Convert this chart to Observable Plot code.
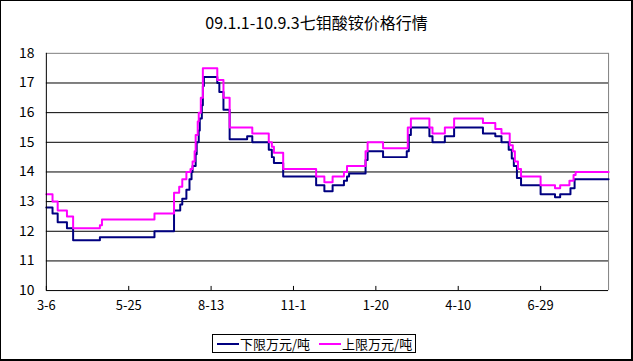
<!DOCTYPE html>
<html><head><meta charset="utf-8">
<script src="https://cdn.jsdelivr.net/npm/d3@7"></script>
<script src="https://cdn.jsdelivr.net/npm/@observablehq/plot@0.6"></script>
<style>
body{margin:0;background:#fff;}
#frame{position:relative;width:630px;height:358px;border-left:1px solid #000;border-top:1px solid #000;border-right:2px solid #000;border-bottom:2px solid #000;font-family:"Noto Sans CJK SC","Noto Sans",sans-serif;overflow:hidden;background:#fff;}
#title{position:absolute;left:-1px;width:633px;top:11px;text-align:center;font-size:16px;line-height:20px;color:#000;}
#chart{position:absolute;left:-1px;top:-1px;}
#legend{position:absolute;left:211px;top:333px;width:202px;height:17px;border:1px solid #000;display:flex;align-items:center;font-size:13px;line-height:17px;color:#000;background:#fff;}
.sw{display:inline-block;width:22px;height:2px;margin:0 1px 0 4px;}
</style>
</head><body>
<div id="frame">
  <div id="title"></div>
  <div id="chart"></div>
  <div id="legend"></div>
</div>
<script>
const titleText = "09.1.1-10.9.3七钼酸铵价格行情";
const seriesNames = ["下限万元/吨", "上限万元/吨"];
const seriesColors = ["#000080", "#ff00ff"];

const tickDates = ["2009-03-06","2009-05-25","2009-08-13","2009-11-01","2010-01-20","2010-04-10","2010-06-29"];
const tickLabels = ["3-6","5-25","8-13","11-1","1-20","4-10","6-29"];
const yTicks = [10,11,12,13,14,15,16,17,18];
const xStart = "2009-03-06", xEnd = "2010-09-03";

const lowDates = ["2009-03-06","2009-03-12","2009-03-17","2009-03-26","2009-04-01","2009-04-27","2009-06-19","2009-07-08","2009-07-14","2009-07-16","2009-07-20","2009-07-23","2009-07-25","2009-07-26","2009-07-29","2009-07-30","2009-08-01","2009-08-02","2009-08-04","2009-08-05","2009-08-06","2009-08-19","2009-08-21","2009-08-25","2009-08-31","2009-09-17","2009-09-22","2009-10-08","2009-10-11","2009-10-13","2009-10-22","2009-11-23","2009-12-01","2009-12-09","2009-12-20","2009-12-23","2009-12-25","2010-01-10","2010-01-12","2010-01-27","2010-02-19","2010-02-21","2010-02-23","2010-03-13","2010-03-16","2010-03-28","2010-04-06","2010-05-04","2010-05-16","2010-05-22","2010-05-29","2010-06-01","2010-06-03","2010-06-06","2010-06-10","2010-06-29","2010-07-13","2010-07-18","2010-07-28","2010-08-01","2010-09-03"];
const lowValues = [12.8,12.6,12.3,12.1,11.7,11.8,12.0,12.7,12.9,13.1,13.4,13.75,14.0,14.2,14.6,15.0,15.4,15.8,16.25,16.9,17.2,17.0,16.7,16.1,15.1,15.2,15.0,14.75,14.5,14.3,13.85,13.55,13.35,13.55,13.7,13.85,13.95,14.4,14.7,14.5,14.7,15.25,15.5,15.2,15.0,15.2,15.5,15.3,15.2,15.0,14.75,14.45,14.2,13.8,13.55,13.25,13.15,13.25,13.45,13.75,13.75];

const highDates = ["2009-03-06","2009-03-12","2009-03-17","2009-03-26","2009-04-01","2009-04-27","2009-04-29","2009-06-19","2009-07-08","2009-07-13","2009-07-16","2009-07-20","2009-07-24","2009-07-26","2009-07-28","2009-07-29","2009-07-31","2009-08-01","2009-08-03","2009-08-05","2009-08-19","2009-08-25","2009-08-31","2009-09-22","2009-10-08","2009-10-11","2009-10-13","2009-10-22","2009-11-23","2009-12-01","2009-12-09","2009-12-20","2009-12-23","2010-01-10","2010-01-12","2010-01-27","2010-02-20","2010-02-23","2010-03-13","2010-03-16","2010-03-28","2010-04-06","2010-05-04","2010-05-16","2010-05-22","2010-05-30","2010-06-02","2010-06-04","2010-06-07","2010-06-10","2010-06-29","2010-07-13","2010-07-18","2010-07-27","2010-07-31","2010-08-02","2010-09-03"];
const highValues = [13.25,13.0,12.7,12.5,12.1,12.2,12.4,12.6,13.3,13.5,13.75,14.0,14.1,14.35,14.7,15.25,15.7,16.0,16.5,17.5,17.1,16.5,15.5,15.3,15.0,14.85,14.65,14.1,13.85,13.65,13.85,14.0,14.2,14.7,15.0,14.8,15.5,15.8,15.5,15.3,15.5,15.8,15.65,15.45,15.3,14.9,14.7,14.35,14.1,13.85,13.55,13.45,13.55,13.7,13.9,14.0,14.0];

const parse = d3.utcParse("%Y-%m-%d");
const lowData = lowDates.map((d, i) => ({date: parse(d), value: lowValues[i]}));
const highData = highDates.map((d, i) => ({date: parse(d), value: highValues[i]}));
const ticks = tickDates.map(parse);
const labelOf = d => tickLabels[ticks.findIndex(t => +t === +d)];
const x0 = parse(xStart), x1 = parse(xEnd);

document.getElementById("title").textContent = titleText;

const chart = Plot.plot({
  width: 633,
  height: 326,
  marginTop: 53,
  marginLeft: 46,
  marginRight: 23,
  marginBottom: 35,
  style: {fontFamily: '"Noto Sans CJK SC","Noto Sans",sans-serif', fontSize: "14px", color: "#000", background: "transparent"},
  x: {type: "utc", domain: [x0, x1], label: null},
  y: {domain: [10, 18], label: null},
  marks: [
    Plot.ruleY(yTicks.filter(v => v > 10 && v < 18), {stroke: "#000", strokeWidth: 1}),
    Plot.ruleY([18], {stroke: "#808080"}),
    Plot.ruleX([x1], {stroke: "#808080"}),
    Plot.line(lowData, {x: "date", y: "value", curve: "step-after", stroke: seriesColors[0], strokeWidth: 2}),
    Plot.line(highData, {x: "date", y: "value", curve: "step-after", stroke: seriesColors[1], strokeWidth: 2}),
    Plot.ruleY([10], {stroke: "#000"}),
    Plot.ruleX([x0], {stroke: "#000"}),
    Plot.ruleX(ticks, {y1: 10, y2: 10.14, stroke: "#000"}),
    Plot.axisX({ticks: ticks, tickFormat: labelOf, tickSize: 0, tickPadding: 10, fontSize: 13, label: null}),
    Plot.axisY({ticks: yTicks, tickSize: 0, tickPadding: 12, fontSize: 14, label: null})
  ]
});
document.getElementById("chart").appendChild(chart);

const legend = document.getElementById("legend");
seriesNames.forEach((name, i) => {
  const sw = document.createElement("span");
  sw.className = "sw";
  sw.style.background = seriesColors[i];
  if (i > 0) sw.style.marginLeft = "9px";
  legend.appendChild(sw);
  const t = document.createElement("span");
  t.textContent = name;
  legend.appendChild(t);
});
</script>
</body></html>
